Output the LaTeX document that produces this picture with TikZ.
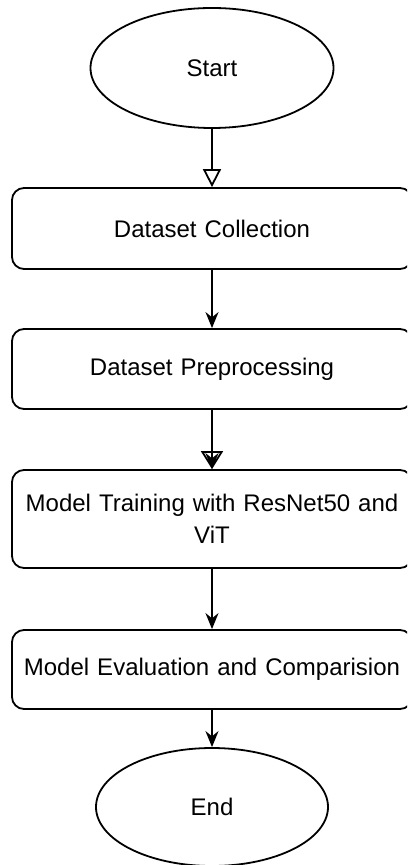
\documentclass[tikz,border=0pt]{standalone}
\usepackage{fontspec}
\setmainfont{Liberation Sans}
\usetikzlibrary{shapes.geometric, arrows.meta, positioning}

\begin{document}
\begin{tikzpicture}[
  x=0.5pt, y=-0.5pt,
  stepbox/.style={draw, rounded corners=6pt, minimum width=200pt, text width=196pt,
                  inner xsep=2pt, align=center, font=\fontsize{12}{16}\selectfont},
  term/.style={draw, ellipse, minimum width=121.5pt, minimum height=60pt,
               font=\fontsize{12}{16}\selectfont},
  >={Stealth[length=8pt, width=6.5pt]},
  line width=0.9pt,
]
  \useasboundingbox (0,0) rectangle (407,865);
  \clip (0,0) rectangle (407,865);

  \node[term]                            (start)   at (212,68)    {Start};
  \node[stepbox, minimum height=40.5pt]  (collect) at (212,228.5) {Dataset Collection};
  \node[stepbox, minimum height=40pt]    (prep)    at (212,369)   {Dataset Preprocessing};
  \node[stepbox, minimum height=49pt]    (train)   at (212,519)   {Model Training with ResNet50 and\\ViT};
  \node[stepbox, minimum height=39.5pt]  (eval)    at (212,669.5) {Model Evaluation and Comparision};
  \node[term, minimum width=116pt, minimum height=59pt] (stop) at (212,807) {End};

  \draw[-{Triangle[open, length=9pt, width=9pt]}] (start) -- (collect);
  \draw[->] (collect) -- (prep);
  % open head stacked on a filled one
  \draw[-{Triangle[open, length=9pt, width=11pt]}] (prep) -- (train);
  \draw[->] (prep) -- (train);
  \draw[->] (train) -- (eval);
  \draw[->] (eval)  -- (stop);
\end{tikzpicture}
\end{document}
